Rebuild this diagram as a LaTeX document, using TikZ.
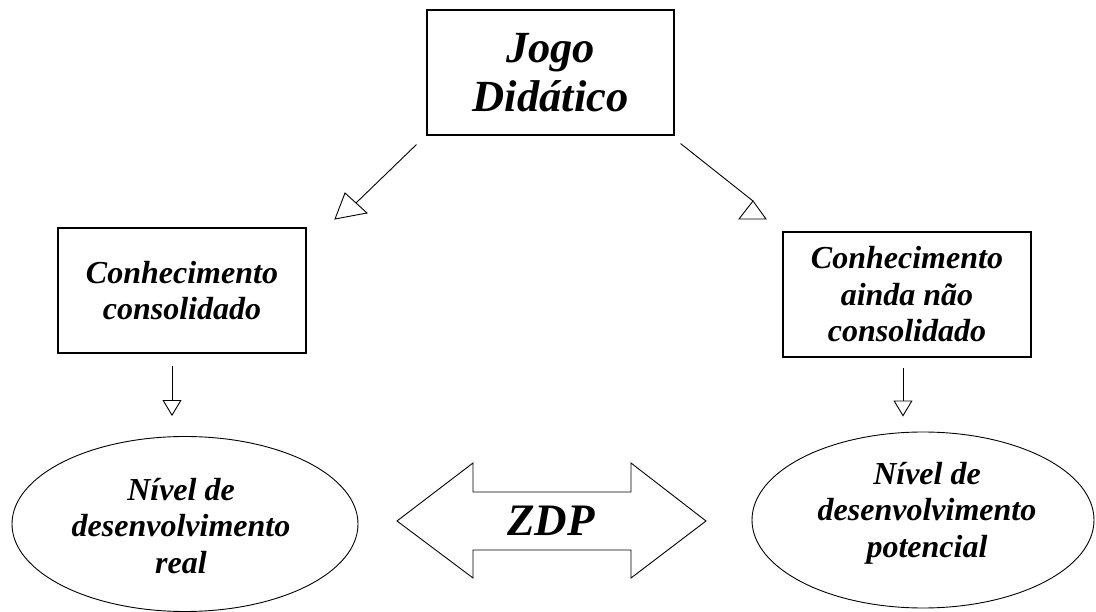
\documentclass[tikz,border=0pt]{standalone}
\usepackage{fontspec}
\setmainfont{Liberation Serif}
\usetikzlibrary{arrows.meta,shapes.geometric}
\begin{document}
\begin{tikzpicture}[x=1pt,y=-1pt,
  line width=1.1pt,
  boxnode/.style={draw, rectangle, minimum width=248pt, minimum height=125pt, inner sep=0pt, align=center,
     font=\bfseries\itshape\fontsize{32}{36.5}\selectfont},
  bignode/.style={draw, rectangle, minimum width=247pt, minimum height=125pt, inner sep=0pt, align=center,
     font=\bfseries\itshape\fontsize{44.5}{49}\selectfont},
  ellnode/.style={draw, ellipse, inner sep=0pt, line width=0.9pt},
  elltext/.style={align=center, inner sep=0pt, font=\bfseries\itshape\fontsize{32}{36.5}\selectfont},
  downarrow/.style={line width=0.9pt, -{Triangle[open, length=16pt, width=19pt, line width=0.9pt]}},
  headtri/.style={draw, line width=0.9pt, fill=white, line join=miter}
]
\useasboundingbox (0,0) rectangle (1096,612);
\fill[white] (0,0) rectangle (1096,612);

\node[bignode] (top) at (550.5,72.5) {Jogo\\Didático};
\node[boxnode] (lbox) at (182,290.5) {Conhecimento\\consolidado};
\node[boxnode] (rbox) at (907,294.5) {Conhecimento\\ainda não\\consolidado};
\node[ellnode, minimum width=346pt, minimum height=175pt] (lell) at (185,524) {};
\node[elltext] (ltxt) at ([xshift=-4pt,yshift=-2pt]lell.center) {Nível de\\desenvolvimento\\real};
\node[ellnode, minimum width=342pt, minimum height=176pt] (rell) at (923,520) {};
\node[elltext] (rtxt) at ([xshift=4pt,yshift=7pt]rell.center) {Nível de\\desenvolvimento\\potencial};

% diagonal connectors
\coordinate (lend) at (356,203);
\coordinate (rend) at (753,201);
\draw[line width=0.9pt] ([xshift=-10pt,yshift=-9pt]top.south west) -- (lend);
\draw[headtri] (345,193) -- (367,213) -- (335,219) -- cycle;
\draw[line width=0.9pt] ([xshift=6pt,yshift=-8pt]top.south east) -- (rend);
\draw[headtri] (753,201) -- (766,219) -- (739,219) -- cycle;

% down connectors
\draw[downarrow] ([xshift=-10pt,yshift=-12pt]lbox.south) -- ([xshift=-13pt,yshift=20pt]lell.north);
\draw[downarrow] ([xshift=-4pt,yshift=-10pt]rbox.south) -- ([xshift=-20pt,yshift=15pt]rell.north);

% ZDP double arrow
\draw[line width=0.9pt, line join=miter] (397,521) -- (473,463) -- (473,492) -- (631,492) -- (631,463) -- (706,521)
  -- (631,578) -- (631,550) -- (473,550) -- (473,578) -- cycle;
\node[font=\bfseries\itshape\fontsize{45}{50}\selectfont, inner sep=0pt] (zdp) at (551,521) {ZDP};
\end{tikzpicture}
\end{document}
